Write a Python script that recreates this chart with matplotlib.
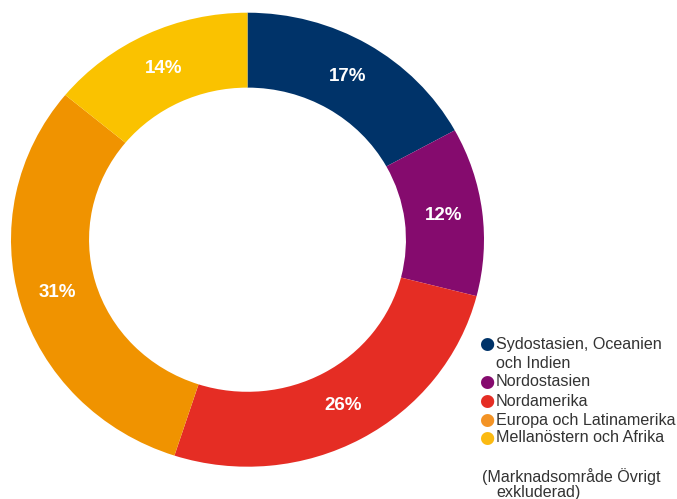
import matplotlib
matplotlib.use('Agg')
import matplotlib.pyplot as plt

# data
regions = ['Sydostasien, Oceanien\noch Indien', 'Nordostasien', 'Nordamerika',
           'Europa och Latinamerika', 'Mellanöstern och Afrika']
shares = [17, 12, 26, 31, 14]
colors = ['#003369', '#850B6E', '#E52D24', '#F09300', '#FAC200']
legend_colors = ['#003369', '#850B6E', '#E52D24', '#F39325', '#FBBA12']
note = '(Marknadsområde Övrigt\n exkluderad)'

W, H = 677, 499
fig = plt.figure(figsize=(W / 100, H / 100), dpi=100)
plt.rcParams['font.family'] = ['Liberation Sans', 'DejaVu Sans']

# the donut is a touch wider than tall in the original
ax = fig.add_axes([11 / W, (H - 466.7) / H, 473 / W, 454 / H])
wedges, texts, autotexts = ax.pie(
    shares, colors=colors, startangle=90, counterclock=False, radius=1,
    wedgeprops=dict(width=0.33, linewidth=0),
    autopct=lambda p: '%d%%' % round(p), pctdistance=0.835,
    textprops=dict(color='white', fontsize=13.5, fontweight='bold'))
ax.set_aspect('auto')
ax.set_xlim(-1, 1)
ax.set_ylim(-1, 1)
ax.axis('off')

# legend drawn by hand, hanging indent for the wrapped label
fs = 11.6
ys = [344, 382, 401, 420, 438]
for lab, c, y in zip(regions, legend_colors, ys):
    fig.text(487 / W, 1 - y / H, '\u25CF', color=c, fontsize=12.5,
             ha='center', va='center', family='DejaVu Sans')
    lines = lab.split('\n')
    fig.text(496 / W, 1 - y / H, lines[0], color='#333333', fontsize=fs,
             ha='left', va='center')
    if len(lines) > 1:
        fig.text(496 / W, 1 - (y + 19) / H, lines[1], color='#333333',
                 fontsize=fs, ha='left', va='center')

fig.text(482 / W, 1 - 477 / H, note.split('\n')[0], color='#333333',
         fontsize=fs, ha='left', va='center')
fig.text(496 / W, 1 - 493 / H, note.split('\n')[1].strip(), color='#333333',
         fontsize=fs, ha='left', va='center')

fig.savefig('out.png', dpi=100)
